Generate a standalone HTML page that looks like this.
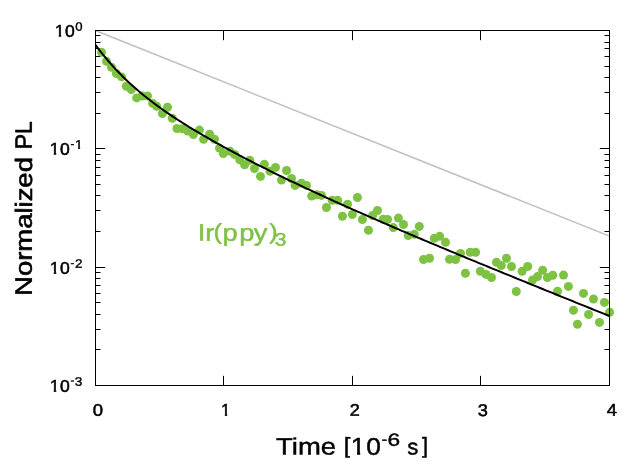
<!DOCTYPE html>
<html><head><meta charset="utf-8"><title>Ir(ppy)3 PL decay</title>
<style>
html,body{margin:0;padding:0;background:#fff;}
svg{display:block;}
text{font-family:"Liberation Sans",sans-serif;stroke-linejoin:round;text-rendering:geometricPrecision;}
</style></head><body>
<svg width="640" height="473" viewBox="0 0 640 473">
<rect x="0" y="0" width="640" height="473" fill="#fff"/>
<defs><clipPath id="k1" clipPathUnits="userSpaceOnUse"><path d="M49.608,19.045H58.996V32.847H55.928V36.645H53.728V32.847H49.608ZM58.996,15.923H91.476V43.123H58.996Z"/></clipPath><clipPath id="k2" clipPathUnits="userSpaceOnUse"><path d="M45.249,131.208H54.637V145.010H51.569V148.808H49.369V145.010H45.249ZM54.637,128.086H87.117V155.286H54.637Z"/></clipPath><clipPath id="k3" clipPathUnits="userSpaceOnUse"><path d="M57.908,126.821H61.436V147.221H57.908ZM61.436,130.768H85.796V140.957H66.201V143.968H64.501V140.957H61.436Z"/></clipPath><clipPath id="k4" clipPathUnits="userSpaceOnUse"><path d="M45.452,242.579H54.840V256.381H51.772V260.179H49.572V256.381H45.452ZM54.840,239.456H87.320V266.656H54.840Z"/></clipPath><clipPath id="k5" clipPathUnits="userSpaceOnUse"><path d="M45.656,354.110H55.044V367.912H51.976V371.710H49.776V367.912H45.656ZM55.044,350.986H87.524V378.186H55.044Z"/></clipPath><clipPath id="k6" clipPathUnits="userSpaceOnUse"><path d="M213.316,375.572H245.796V389.374H219.636V393.172H217.436V389.374H213.316Z"/></clipPath><clipPath id="k7" clipPathUnits="userSpaceOnUse"><path d="M307.701,416.344H313.929V456.294H307.701ZM313.929,422.500H327.773V443.242H322.999V448.350H320.193V443.242H313.929ZM327.773,417.895H375.478V457.845H327.773Z"/></clipPath></defs>
<path d="M95.5,148.5h9.7M609.5,148.5h-9.7M95.5,113.5h5M609.5,113.5h-5M95.5,92.5h5M609.5,92.5h-5M95.5,77.5h5M609.5,77.5h-5M95.5,66.5h5M609.5,66.5h-5M95.5,56.5h5M609.5,56.5h-5M95.5,48.5h5M609.5,48.5h-5M95.5,42.5h5M609.5,42.5h-5M95.5,35.5h5M609.5,35.5h-5M95.5,267.5h9.7M609.5,267.5h-9.7M95.5,231.5h5M609.5,231.5h-5M95.5,210.5h5M609.5,210.5h-5M95.5,195.5h5M609.5,195.5h-5M95.5,184.5h5M609.5,184.5h-5M95.5,175.5h5M609.5,175.5h-5M95.5,167.5h5M609.5,167.5h-5M95.5,160.5h5M609.5,160.5h-5M95.5,154.5h5M609.5,154.5h-5M95.5,349.5h5M609.5,349.5h-5M95.5,329.5h5M609.5,329.5h-5M95.5,314.5h5M609.5,314.5h-5M95.5,302.5h5M609.5,302.5h-5M95.5,293.5h5M609.5,293.5h-5M95.5,285.5h5M609.5,285.5h-5M95.5,278.5h5M609.5,278.5h-5M95.5,272.5h5M609.5,272.5h-5M223.5,30.5v9.7M223.5,385.5v-9.7M352.5,30.5v9.7M352.5,385.5v-9.7M480.5,30.5v9.7M480.5,385.5v-9.7" stroke="#000" stroke-width="1" fill="none"/>
<line x1="95.45" y1="30.55" x2="609.45" y2="236.12" stroke="#bebebe" stroke-width="1.5"/>
<g fill="#7dc242"><circle cx="101.57" cy="52.35" r="4.5"/><circle cx="106.50" cy="61.35" r="4.5"/><circle cx="111.40" cy="67.20" r="4.5"/><circle cx="116.35" cy="73.45" r="4.5"/><circle cx="121.55" cy="76.90" r="4.5"/><circle cx="126.30" cy="86.20" r="4.5"/><circle cx="131.30" cy="89.65" r="4.5"/><circle cx="136.70" cy="97.90" r="4.5"/><circle cx="142.10" cy="96.00" r="4.5"/><circle cx="147.50" cy="95.90" r="4.5"/><circle cx="152.60" cy="103.40" r="4.5"/><circle cx="156.70" cy="106.30" r="4.5"/><circle cx="162.40" cy="113.55" r="4.5"/><circle cx="167.50" cy="107.20" r="4.5"/><circle cx="172.26" cy="118.30" r="4.5"/><circle cx="176.95" cy="128.50" r="4.5"/><circle cx="182.30" cy="128.80" r="4.5"/><circle cx="187.70" cy="131.00" r="4.5"/><circle cx="193.40" cy="134.50" r="4.5"/><circle cx="199.45" cy="130.07" r="4.5"/><circle cx="203.60" cy="139.26" r="4.5"/><circle cx="209.60" cy="134.20" r="4.5"/><circle cx="214.44" cy="139.30" r="4.5"/><circle cx="219.50" cy="148.16" r="4.5"/><circle cx="223.30" cy="153.55" r="4.5"/><circle cx="229.97" cy="151.33" r="4.5"/><circle cx="234.70" cy="154.50" r="4.5"/><circle cx="239.80" cy="159.90" r="4.5"/><circle cx="244.60" cy="164.70" r="4.5"/><circle cx="249.70" cy="160.24" r="4.5"/><circle cx="254.46" cy="168.50" r="4.5"/><circle cx="260.50" cy="176.40" r="4.5"/><circle cx="264.40" cy="164.36" r="4.5"/><circle cx="270.00" cy="171.30" r="4.5"/><circle cx="275.50" cy="167.40" r="4.5"/><circle cx="281.45" cy="180.10" r="4.5"/><circle cx="286.56" cy="170.50" r="4.5"/><circle cx="291.50" cy="178.46" r="4.5"/><circle cx="295.10" cy="185.40" r="4.5"/><circle cx="301.45" cy="183.20" r="4.5"/><circle cx="306.50" cy="185.40" r="4.5"/><circle cx="311.60" cy="196.10" r="4.5"/><circle cx="316.75" cy="194.80" r="4.5"/><circle cx="321.50" cy="195.40" r="4.5"/><circle cx="326.45" cy="207.45" r="4.5"/><circle cx="332.30" cy="200.35" r="4.5"/><circle cx="337.67" cy="200.35" r="4.5"/><circle cx="342.40" cy="216.25" r="4.5"/><circle cx="347.55" cy="204.20" r="4.5"/><circle cx="352.34" cy="214.45" r="4.5"/><circle cx="357.40" cy="197.45" r="4.5"/><circle cx="362.35" cy="219.50" r="4.5"/><circle cx="368.50" cy="230.20" r="4.5"/><circle cx="372.60" cy="215.50" r="4.5"/><circle cx="377.50" cy="210.46" r="4.5"/><circle cx="383.10" cy="219.35" r="4.5"/><circle cx="387.60" cy="219.40" r="4.5"/><circle cx="393.30" cy="227.60" r="4.5"/><circle cx="398.40" cy="218.10" r="4.5"/><circle cx="403.45" cy="224.46" r="4.5"/><circle cx="408.20" cy="235.55" r="4.5"/><circle cx="414.25" cy="234.37" r="4.5"/><circle cx="419.30" cy="226.40" r="4.5"/><circle cx="423.50" cy="259.50" r="4.5"/><circle cx="429.50" cy="258.20" r="4.5"/><circle cx="434.30" cy="238.24" r="4.5"/><circle cx="439.67" cy="236.34" r="4.5"/><circle cx="445.50" cy="242.36" r="4.5"/><circle cx="449.50" cy="259.35" r="4.5"/><circle cx="455.60" cy="259.50" r="4.5"/><circle cx="460.50" cy="253.40" r="4.5"/><circle cx="465.40" cy="273.20" r="4.5"/><circle cx="470.20" cy="252.24" r="4.5"/><circle cx="475.60" cy="252.24" r="4.5"/><circle cx="480.35" cy="271.23" r="4.5"/><circle cx="486.05" cy="274.40" r="4.5"/><circle cx="491.50" cy="277.55" r="4.5"/><circle cx="496.45" cy="262.34" r="4.5"/><circle cx="501.30" cy="265.50" r="4.5"/><circle cx="506.50" cy="258.20" r="4.5"/><circle cx="511.50" cy="266.46" r="4.5"/><circle cx="516.30" cy="291.45" r="4.5"/><circle cx="522.10" cy="271.35" r="4.5"/><circle cx="527.70" cy="266.50" r="4.5"/><circle cx="532.50" cy="280.04" r="4.5"/><circle cx="537.55" cy="276.56" r="4.5"/><circle cx="542.60" cy="270.20" r="4.5"/><circle cx="547.40" cy="277.50" r="4.5"/><circle cx="552.77" cy="275.30" r="4.5"/><circle cx="557.50" cy="291.20" r="4.5"/><circle cx="563.50" cy="275.10" r="4.5"/><circle cx="568.40" cy="286.44" r="4.5"/><circle cx="573.45" cy="310.20" r="4.5"/><circle cx="577.45" cy="324.30" r="4.5"/><circle cx="583.50" cy="293.40" r="4.5"/><circle cx="588.56" cy="314.50" r="4.5"/><circle cx="593.50" cy="298.95" r="4.5"/><circle cx="599.50" cy="322.40" r="4.5"/><circle cx="604.40" cy="302.44" r="4.5"/><circle cx="609.60" cy="312.26" r="4.5"/></g>
<path d="M95.45,44.96 L98.02,48.35 L100.59,51.65 L103.16,54.85 L105.73,57.97 L108.30,61.00 L110.87,63.94 L113.44,66.80 L116.01,69.57 L118.58,72.28 L121.15,74.91 L123.72,77.46 L126.29,79.95 L128.86,82.38 L131.43,84.75 L134.00,87.05 L136.57,89.30 L139.14,91.50 L141.71,93.65 L144.28,95.75 L146.85,97.80 L149.42,99.82 L151.99,101.79 L154.56,103.72 L157.13,105.62 L159.70,107.49 L162.27,109.32 L164.84,111.12 L167.41,112.90 L169.98,114.65 L172.55,116.37 L175.12,118.07 L177.69,119.74 L180.26,121.40 L182.83,123.03 L185.40,124.64 L187.97,126.24 L190.54,127.82 L193.11,129.38 L195.68,130.92 L198.25,132.45 L200.82,133.97 L203.39,135.47 L205.96,136.96 L208.53,138.43 L211.10,139.90 L213.67,141.35 L216.24,142.79 L218.81,144.22 L221.38,145.64 L223.95,147.05 L226.52,148.45 L229.09,149.84 L231.66,151.22 L234.23,152.59 L236.80,153.95 L239.37,155.31 L241.94,156.66 L244.51,158.00 L247.08,159.33 L249.65,160.66 L252.22,161.97 L254.79,163.28 L257.36,164.59 L259.93,165.89 L262.50,167.18 L265.07,168.46 L267.64,169.74 L270.21,171.02 L272.78,172.28 L275.35,173.55 L277.92,174.80 L280.49,176.05 L283.06,177.30 L285.63,178.54 L288.20,179.78 L290.77,181.01 L293.34,182.23 L295.91,183.45 L298.48,184.67 L301.05,185.88 L303.62,187.09 L306.19,188.29 L308.76,189.49 L311.33,190.69 L313.90,191.88 L316.47,193.07 L319.04,194.25 L321.61,195.43 L324.18,196.61 L326.75,197.78 L329.32,198.95 L331.89,200.11 L334.46,201.27 L337.03,202.43 L339.60,203.59 L342.17,204.74 L344.74,205.89 L347.31,207.04 L349.88,208.18 L352.45,209.32 L355.02,210.46 L357.59,211.59 L360.16,212.73 L362.73,213.86 L365.30,214.98 L367.87,216.11 L370.44,217.23 L373.01,218.35 L375.58,219.47 L378.15,220.58 L380.72,221.70 L383.29,222.81 L385.86,223.92 L388.43,225.02 L391.00,226.13 L393.57,227.23 L396.14,228.33 L398.71,229.43 L401.28,230.53 L403.85,231.62 L406.42,232.72 L408.99,233.81 L411.56,234.90 L414.13,235.99 L416.70,237.08 L419.27,238.16 L421.84,239.25 L424.41,240.33 L426.98,241.41 L429.55,242.49 L432.12,243.57 L434.69,244.64 L437.26,245.72 L439.83,246.79 L442.40,247.87 L444.97,248.94 L447.54,250.01 L450.11,251.08 L452.68,252.15 L455.25,253.22 L457.82,254.28 L460.39,255.35 L462.96,256.41 L465.53,257.48 L468.10,258.54 L470.67,259.60 L473.24,260.66 L475.81,261.72 L478.38,262.78 L480.95,263.84 L483.52,264.89 L486.09,265.95 L488.66,267.01 L491.23,268.06 L493.80,269.11 L496.37,270.17 L498.94,271.22 L501.51,272.27 L504.08,273.32 L506.65,274.37 L509.22,275.42 L511.79,276.47 L514.36,277.52 L516.93,278.57 L519.50,279.62 L522.07,280.66 L524.64,281.71 L527.21,282.76 L529.78,283.80 L532.35,284.85 L534.92,285.89 L537.49,286.93 L540.06,287.98 L542.63,289.02 L545.20,290.06 L547.77,291.10 L550.34,292.15 L552.91,293.19 L555.48,294.23 L558.05,295.27 L560.62,296.31 L563.19,297.35 L565.76,298.39 L568.33,299.43 L570.90,300.46 L573.47,301.50 L576.04,302.54 L578.61,303.58 L581.18,304.61 L583.75,305.65 L586.32,306.69 L588.89,307.72 L591.46,308.76 L594.03,309.80 L596.60,310.83 L599.17,311.87 L601.74,312.90 L604.31,313.94 L606.88,314.97 L609.45,316.01" fill="none" stroke="#000" stroke-width="1.95" stroke-linejoin="round"/>
<rect x="95.5" y="30.5" width="514.0" height="355.0" fill="none" stroke="#000" stroke-width="1"/>
<text transform="matrix(1.0956,0.002,-0.002,1.0408,0,0)" x="50.088 59.476" y="35.045 35.123" clip-path="url(#k1)" style="font-size:16px;stroke-width:0.5px;fill:#000;stroke:#000">10</text>
<text transform="matrix(1.0939,0.002,-0.002,1.0229,0,0)" x="68.825" y="29.923" style="font-size:12px;stroke-width:0.35px;fill:#000;stroke:#000">0</text>
<text transform="matrix(1.0956,0.002,-0.002,1.0494,0,0)" x="45.729 55.117" y="147.208 147.286" clip-path="url(#k2)" style="font-size:16px;stroke-width:0.5px;fill:#000;stroke:#000">10</text>
<text transform="matrix(1.2148,0.002,-0.002,1.0412,0,0)" clip-path="url(#k3)" style="font-size:12px;stroke-width:0.35px;fill:#000;stroke:#000"><tspan x="58.268" y="141.221" style="font-size:9.45px">-</tspan><tspan x="61.796" y="142.768">1</tspan></text>
<text transform="matrix(1.0956,0.002,-0.002,1.0580,0,0)" x="45.932 55.320" y="258.579 258.656" clip-path="url(#k4)" style="font-size:16px;stroke-width:0.5px;fill:#000;stroke:#000">10</text>
<text transform="matrix(1.1234,0.002,-0.002,1.0261,0,0)" style="font-size:12px;stroke-width:0.35px;fill:#000;stroke:#000"><tspan x="63.221" y="259.511" style="font-size:10.34px">-</tspan><tspan x="67.207" y="260.882">2</tspan></text>
<text transform="matrix(1.0956,0.002,-0.002,1.0580,0,0)" x="46.136 55.524" y="370.110 370.186" clip-path="url(#k5)" style="font-size:16px;stroke-width:0.5px;fill:#000;stroke:#000">10</text>
<text transform="matrix(1.1265,0.002,-0.002,1.0286,0,0)" style="font-size:12px;stroke-width:0.35px;fill:#000;stroke:#000"><tspan x="63.243" y="373.127" style="font-size:10.31px">-</tspan><tspan x="67.080" y="374.897">3</tspan></text>
<text transform="matrix(1.1569,0.002,-0.002,1.0468,0,0)" x="80.956" y="396.964" style="font-size:16px;stroke-width:0.5px;fill:#000;stroke:#000">0</text>
<text transform="matrix(1.0378,0.002,-0.002,1.0609,0,0)" x="213.796" y="391.572" clip-path="url(#k6)" style="font-size:16px;stroke-width:0.5px;fill:#000;stroke:#000">1</text>
<text transform="matrix(1.1302,0.002,-0.002,1.0581,0,0)" x="310.239" y="392.429" style="font-size:16px;stroke-width:0.5px;fill:#000;stroke:#000">2</text>
<text transform="matrix(1.1385,0.002,-0.002,1.0553,0,0)" x="420.225" y="393.306" style="font-size:16px;stroke-width:0.5px;fill:#000;stroke:#000">3</text>
<text transform="matrix(1.1529,0.002,-0.002,1.0696,0,0)" x="527.027" y="387.801" style="font-size:16px;stroke-width:0.5px;fill:#000;stroke:#000">4</text>
<text transform="matrix(1.1682,0.002,-0.002,1.0045,276.108,454.449)" style="font-size:23.5px;stroke-width:0.45px;fill:#000;stroke:#000">Time</text>
<text transform="matrix(1.1179,0.002,-0.002,1.0177,0,0)" clip-path="url(#k7)" style="font-size:23.5px;stroke-width:0.45px;fill:#000;stroke:#000"><tspan x="308.406" y="444.544" style="font-size:21.58px">[</tspan><tspan x="314.634" y="446.000">1</tspan><tspan x="328.478" y="446.095">0</tspan></text>
<text transform="matrix(1.2941,0.002,-0.002,0.9961,0,0)" style="font-size:17.5px;stroke-width:0.44999999999999996px;fill:#000;stroke:#000"><tspan x="295.657" y="444.752" style="font-size:12.48px">-</tspan><tspan x="300.116" y="446.879">6</tspan></text>
<text transform="matrix(0.9459,0.002,-0.002,0.9495,0,0)" style="font-size:23.5px;stroke-width:0.45px;fill:#000;stroke:#000"><tspan x="431.589" y="477.669">s</tspan><tspan x="447.189" y="476.237" style="font-size:23.22px">]</tspan></text>
<text transform="matrix(0.002,-1.1685,1.0090,0.002,31.748,295.949)" style="font-size:23.5px;stroke-width:0.6px;fill:#000;stroke:#000">Normalized</text>
<text transform="matrix(0.002,-0.9803,1.0090,0.002,31.748,149.293)" style="font-size:23.5px;stroke-width:0.6px;fill:#000;stroke:#000">PL</text>
<text transform="matrix(1.1604,0.002,-0.002,1.0092,0,0)" style="font-size:23.5px;stroke-width:0.45px;fill:#7dc242;stroke:#7dc242"><tspan x="170.738" y="238.012">I</tspan><tspan x="177.393" y="238.231">r</tspan><tspan x="184.405" y="236.650" style="font-size:21.93px">(</tspan><tspan x="192.205" y="238.167">p</tspan><tspan x="206.553" y="238.138">p</tspan><tspan x="219.148" y="238.137">y</tspan><tspan x="232.361" y="236.394" style="font-size:21.72px">)</tspan></text>
<text transform="matrix(1.2058,0.002,-0.002,1.0275,0,0)" x="228.292" y="238.608" style="font-size:17.5px;stroke-width:0.39999999999999997px;fill:#7dc242;stroke:#7dc242">3</text>
</svg></body></html>
